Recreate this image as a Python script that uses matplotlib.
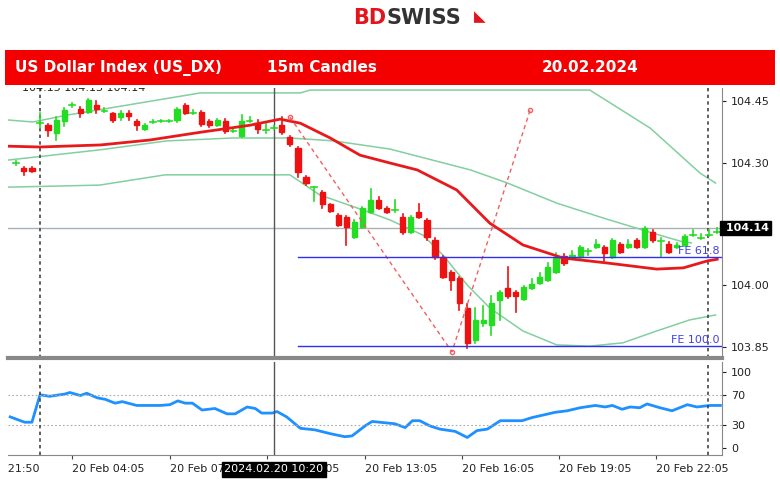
import matplotlib.pyplot as plt
from matplotlib.patches import Rectangle

# 15m candles, index = bar number
opens = [104.298, 104.287, 104.287, 104.394, 104.391, 104.372, 104.401, 104.438, 104.430, 104.423,
         104.440, 104.425, 104.420, 104.410, 104.420, 104.401, 104.382, 104.398, 104.400, 104.400,
         104.404, 104.440, 104.419, 104.423, 104.401, 104.391, 104.401, 104.376, 104.365, 104.400,
         104.396, 104.378, 104.383, 104.391, 104.362, 104.335, 104.265, 104.238, 104.228, 104.199,
         104.172, 104.167, 104.118, 104.143, 104.180, 104.208, 104.189, 104.182, 104.167, 104.130,
         104.180, 104.160, 104.111, 104.070, 104.033, 104.018, 103.945, 103.867, 103.908, 103.903,
         103.964, 103.994, 103.984, 103.967, 103.994, 104.006, 104.013, 104.033, 104.072, 104.067,
         104.070, 104.081, 104.094, 104.094, 104.070, 104.101, 104.094, 104.111, 104.094, 104.130,
         104.106, 104.101, 104.094, 104.099, 104.122, 104.115, 104.122, 104.130]
closes = [104.300, 104.279, 104.279, 104.396, 104.379, 104.404, 104.428, 104.440, 104.420, 104.452,
          104.430, 104.426, 104.404, 104.420, 104.413, 104.391, 104.391, 104.399, 104.401, 104.401,
          104.430, 104.420, 104.420, 104.394, 104.391, 104.404, 104.377, 104.377, 104.401, 104.401,
          104.382, 104.379, 104.384, 104.374, 104.345, 104.277, 104.250, 104.240, 104.199, 104.182,
          104.148, 104.143, 104.155, 104.189, 104.208, 104.189, 104.180, 104.184, 104.130, 104.167,
          104.167, 104.118, 104.070, 104.021, 104.013, 103.957, 103.860, 103.916, 103.916, 103.957,
          103.984, 103.974, 103.974, 103.996, 104.004, 104.021, 104.045, 104.067, 104.055, 104.074,
          104.094, 104.083, 104.101, 104.079, 104.111, 104.082, 104.101, 104.094, 104.140, 104.111,
          104.108, 104.082, 104.099, 104.121, 104.124, 104.117, 104.124, 104.131]
highs = [104.305, 104.290, 104.288, 104.420, 104.395, 104.410, 104.433, 104.445, 104.435, 104.455,
         104.450, 104.433, 104.422, 104.425, 104.425, 104.405, 104.393, 104.403, 104.405, 104.405,
         104.432, 104.442, 104.428, 104.425, 104.405, 104.406, 104.406, 104.382, 104.415, 104.412,
         104.405, 104.395, 104.390, 104.410, 104.365, 104.338, 104.268, 104.240, 104.230, 104.200,
         104.175, 104.170, 104.160, 104.192, 104.235, 104.215, 104.192, 104.208, 104.175, 104.170,
         104.200, 104.163, 104.115, 104.072, 104.035, 104.020, 103.955, 103.945, 103.950, 103.975,
         103.986, 104.045, 103.986, 103.998, 104.015, 104.030, 104.055, 104.080, 104.077, 104.085,
         104.096, 104.090, 104.110, 104.096, 104.113, 104.103, 104.110, 104.113, 104.143, 104.135,
         104.115, 104.105, 104.103, 104.123, 104.135, 104.125, 104.135, 104.140]
lows = [104.295, 104.270, 104.278, 104.385, 104.365, 104.355, 104.390, 104.435, 104.412, 104.420,
        104.420, 104.423, 104.400, 104.405, 104.405, 104.380, 104.380, 104.396, 104.398, 104.398,
        104.400, 104.418, 104.418, 104.390, 104.388, 104.389, 104.372, 104.375, 104.363, 104.398,
        104.372, 104.372, 104.381, 104.370, 104.340, 104.265, 104.245, 104.205, 104.190, 104.180,
        104.145, 104.100, 104.115, 104.140, 104.178, 104.186, 104.178, 104.180, 104.125, 104.128,
        104.165, 104.110, 104.065, 104.018, 103.990, 103.940, 103.848, 103.860, 103.900, 103.880,
        103.916, 103.970, 103.935, 103.965, 103.992, 104.004, 104.011, 104.031, 104.050, 104.065,
        104.068, 104.075, 104.092, 104.060, 104.068, 104.080, 104.092, 104.092, 104.092, 104.105,
        104.070, 104.080, 104.092, 104.097, 104.120, 104.113, 104.120, 104.128]

ma_x = [-1, 3, 10.5, 16.6, 22.9, 29, 32.8, 35.3, 39, 42.7, 46.4, 49.8, 54.7, 58.8, 62.9, 67.9, 73.3, 79.5, 82.8, 85.8, 87]
ma_y = [104.340, 104.338, 104.343, 104.355, 104.374, 104.391, 104.406, 104.396, 104.360, 104.318, 104.299,
        104.282, 104.233, 104.152, 104.099, 104.067, 104.055, 104.040, 104.043, 104.060, 104.064]

up_x = [-1, 2.1, 6.4, 22.9, 35.3, 36.5, 71.2, 78.7, 84.9, 86.8]
up_y = [104.404, 104.399, 104.416, 104.470, 104.470, 104.477, 104.477, 104.384, 104.274, 104.250]
mid_x = [-1, 10.4, 18.8, 27.0, 34.0, 39.4, 46.4, 56.4, 61.0, 67.1, 73.3, 79.5, 82.8, 83.8]
mid_y = [104.306, 104.331, 104.353, 104.360, 104.360, 104.353, 104.333, 104.282, 104.250, 104.201,
         104.162, 104.125, 104.106, 104.104]
lo_x = [-1, 10.4, 18.5, 34.0, 37.7, 43.1, 46.4, 50.5, 53.0, 56.0, 58.8, 62.9, 67.1, 71.2, 75.3, 79.5, 83.6, 86.8]
lo_y = [104.240, 104.245, 104.270, 104.270, 104.221, 104.184, 104.160, 104.123, 104.074, 104.001, 103.945,
        103.889, 103.855, 103.852, 103.860, 103.889, 103.916, 103.928]

fe_x = [34.0, 54.1, 63.8]
fe_y = [104.411, 103.838, 104.428]
fe_start = 35
fe_levels = [104.070, 103.852]
fe_labels = ["FE 61.8", "FE 100.0"]
last_price = 104.14

rsi_x = [-0.7, 1.1, 2.0, 3.0, 4.2, 6.1, 6.7, 8.0, 8.8, 10.1, 11.1, 12.3, 13.2, 15.0, 17.9, 19.1, 20.1, 21.0,
         21.9, 23.1, 24.7, 26.2, 27.2, 28.7, 29.7, 30.5, 31.8, 32.4, 33.6, 35.3, 37.1, 39.0, 40.8, 41.7,
         43.3, 44.2, 47.0, 48.3, 49.2, 50.1, 51.4, 52.6, 54.5, 56.0, 57.2, 58.5, 60.1, 62.8, 64.0, 66.9,
         68.4, 70.0, 71.9, 73.1, 74.0, 75.2, 76.2, 77.4, 78.3, 79.9, 81.4, 83.3, 84.5, 86.1, 87.4]
rsi_y = [41, 34, 34, 70, 68, 71, 73, 69, 72, 66, 64, 59, 61, 56, 56, 57, 62, 59, 59, 50, 52, 45, 45, 54, 52,
         46, 46, 48, 41, 26, 24, 19, 15, 16, 29, 35, 32, 27, 36, 36, 29, 25, 22, 14, 23, 25, 36, 36, 40, 47,
         49, 53, 56, 54, 56, 51, 54, 53, 58, 53, 49, 57, 54, 56, 56]

tick_pos = [7.0, 19.1, 31.2, 43.3, 55.4, 67.4, 79.4]
tick_labels = ["20 Feb 04:05", "20 Feb 07:05", "20 Feb 10:05", "20 Feb 13:05", "20 Feb 16:05",
               "20 Feb 19:05", "20 Feb 22:05"]
price_ticks = [104.45, 104.30, 104.00, 103.85]

W, H = 780, 492
GREEN = "#22dd22"
RED = "#ee1111"
BAND = "#82cfa0"


def box(l, t, r, b):
    return [l / W, 1 - b / H, (r - l) / W, (b - t) / H]


fig = plt.figure(figsize=(7.8, 4.92), dpi=100)
fig.patch.set_facecolor("white")

# header
fig.text(0.5 - 0.005, 1 - 18 / H, "BD", color="#e3141b", fontsize=15, fontweight="bold", ha="right", va="center")
fig.text(0.5 - 0.005, 1 - 18 / H, "SWISS", color="#333333", fontsize=15, fontweight="bold", ha="left", va="center")
fig.text(0.5 + 0.115, 1 - 17 / H, "\u25E3", color="#e3141b", fontsize=11, ha="center", va="center")
fig.patches.append(Rectangle((5 / W, 1 - 85 / H), 770 / W, 35 / H, transform=fig.transFigure,
                             facecolor="#f40000", edgecolor="none"))
for x, s in [(118, "US Dollar Index (US_DX)"), (322, "15m Candles"), (590, "20.02.2024")]:
    fig.text(x / W, 1 - 68 / H, s, color="white", fontsize=11, fontweight="bold", ha="center", va="center")

xlim = (-0.97, 87.6)
ax = fig.add_axes(box(8, 88, 722, 358))
ax.set_xlim(*xlim)
ax.set_ylim(103.823, 104.482)

for i in range(len(opens)):
    o, c, h, l = opens[i], closes[i], highs[i], lows[i]
    col = GREEN if c >= o else RED
    ax.plot([i, i], [l, h], color=col, lw=1.2, zorder=3)
    if abs(c - o) < 0.004:
        ax.plot([i - 0.35, i + 0.35], [c, c], color=col, lw=1.2, zorder=3)
    else:
        ax.add_patch(Rectangle((i - 0.32, min(o, c)), 0.64, abs(c - o), facecolor=col, edgecolor=col, zorder=3))

ax.plot(up_x, up_y, color=BAND, lw=1.1, zorder=2)
ax.plot(mid_x, mid_y, color=BAND, lw=1.1, zorder=2)
ax.plot(lo_x, lo_y, color=BAND, lw=1.1, zorder=2)
ax.plot(ma_x, ma_y, color="#e8191a", lw=2, zorder=4)
ax.plot(fe_x, fe_y, color="#f06060", lw=1, ls=(0, (3, 2.5)), zorder=4)
ax.plot(fe_x, fe_y, "o", mfc="none", mec="#f06060", ms=3, zorder=4)
ax.axhline(last_price, color="#a8b0b8", lw=1, zorder=1)
for lvl, lab in zip(fe_levels, fe_labels):
    ax.plot([fe_start, xlim[1]], [lvl, lvl], color="#3030ee", lw=1, zorder=4)
    ax.text(xlim[1] - 0.3, lvl + 0.003, lab, color="#4040ee", fontsize=8, ha="right", va="bottom", zorder=5)
ax.axvline(3, color="#444444", lw=1.2, ls=(0, (2, 2)))
ax.axvline(85.9, color="#444444", lw=1.2, ls=(0, (2, 2)))
ax.axvline(32, color="#555555", lw=1)
ax.text(0.02, 1.0, "104.15 104.13 104.14", transform=ax.transAxes, fontsize=8, color="#222222",
        va="center", ha="left", clip_on=True)

ax.yaxis.tick_right()
ax.set_yticks(price_ticks)
ax.set_yticklabels([f"{p:.2f}" for p in price_ticks], fontsize=8)
ax.tick_params(axis="y", length=3, pad=3, colors="#222222")
ax.set_xticks([])
ax.text(1.0, last_price, f" {last_price:.2f}", transform=ax.get_yaxis_transform(), fontsize=8,
        fontweight="bold", color="white", va="center", ha="left",
        bbox=dict(boxstyle="square,pad=0.15", facecolor="black", edgecolor="black"), clip_on=False)
for s in ["top", "left"]:
    ax.spines[s].set_visible(False)
ax.spines["right"].set_color("#888888")
ax.spines["bottom"].set_color("#888888")
ax.spines["bottom"].set_linewidth(3)

# RSI panel
rx = fig.add_axes(box(8, 362, 722, 455))
rx.set_xlim(*xlim)
rx.set_ylim(-9, 113)
rx.plot(rsi_x, rsi_y, color="#1e90ff", lw=2)
for lv in (70, 30):
    rx.axhline(lv, color="#aaaaaa", lw=0.8, ls=(0, (1.5, 2)))
rx.axvline(3, color="#444444", lw=1.2, ls=(0, (2, 2)))
rx.axvline(85.9, color="#444444", lw=1.2, ls=(0, (2, 2)))
rx.axvline(32, color="#555555", lw=1)
rx.yaxis.tick_right()
rx.set_yticks([100, 70, 30, 0])
rx.tick_params(axis="y", labelsize=8, length=3, colors="#222222")
rx.set_xticks(tick_pos)
rx.set_xticklabels([])
rx.tick_params(axis="x", length=3, colors="#444444")
for s in ["top", "left"]:
    rx.spines[s].set_visible(False)
rx.spines["right"].set_color("#888888")
rx.spines["bottom"].set_color("#888888")
for p, lab in zip(tick_pos, tick_labels):
    rx.text(p, -0.1, lab, transform=rx.get_xaxis_transform(), fontsize=8, ha="left", va="top", color="#222222")
rx.text(-6.0, -0.1, "19 Feb 21:50", transform=rx.get_xaxis_transform(), fontsize=8, ha="left", va="top",
        color="#222222", clip_on=False)
rx.text(32, -0.1, "2024.02.20 10:20", transform=rx.get_xaxis_transform(), fontsize=8, ha="center", va="top",
        color="white", bbox=dict(boxstyle="square,pad=0.2", facecolor="black", edgecolor="black"), zorder=6)

# hide label overflow on left edge
fig.patches.append(Rectangle((0, 0), 8 / W, 40 / H, transform=fig.transFigure, facecolor="white",
                             edgecolor="none", zorder=10))

fig.savefig("out.png", dpi=100)
